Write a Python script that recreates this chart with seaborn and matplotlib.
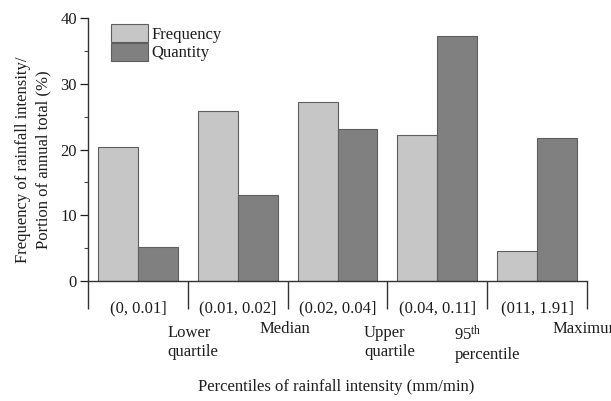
import matplotlib
matplotlib.use("Agg")
import matplotlib.pyplot as plt
import matplotlib.transforms as mtransforms
from matplotlib.ticker import FixedLocator, MultipleLocator
import numpy as np
import pandas as pd
import seaborn as sns

# Rainfall intensity classes (mm/min)
categories = ["(0, 0.01]", "(0.01, 0.02]", "(0.02, 0.04]", "(0.04, 0.11]", "(011, 1.91]"]
frequency = [20.4, 25.9, 27.2, 22.2, 4.5]
quantity = [5.2, 13.1, 23.1, 37.2, 21.7]
series_names = ["Frequency", "Quantity"]

# Percentile markers placed on the class boundaries
boundary_labels = ["Lower\nquartile", "Median", "Upper\nquartile",
                   "95$^{\\mathrm{th}}$\npercentile", "Maximum"]

df = pd.DataFrame({
    "category": categories * 2,
    "series": [series_names[0]] * len(categories) + [series_names[1]] * len(categories),
    "value": frequency + quantity,
})

sns.set_theme(style="ticks")
plt.rcParams["font.family"] = ["Liberation Serif", "DejaVu Serif"]
plt.rcParams["mathtext.fontset"] = "custom"
plt.rcParams["mathtext.rm"] = "Liberation Serif"
plt.rcParams["mathtext.it"] = "Liberation Serif:italic"

FS = 12
TXT = "#1e1e1e"

fig = plt.figure(figsize=(6.11, 4.01), dpi=100)
ax = fig.add_axes([88 / 611, 1 - 281 / 401, 499 / 611, 263 / 401])

sns.barplot(data=df, x="category", y="value", hue="series",
            palette=["#c6c6c6", "#808080"], width=0.8, gap=0,
            edgecolor="#5e5e5e", linewidth=0.8, ax=ax)

ax.set_xlim(-0.5, 4.5)
ax.set_ylim(0, 40)
ax.yaxis.set_major_locator(MultipleLocator(10))
ax.yaxis.set_minor_locator(MultipleLocator(5))
ax.tick_params(axis="y", which="major", direction="out", length=6, width=0.9,
               labelsize=FS, colors=TXT, pad=2)
ax.tick_params(axis="y", which="minor", direction="out", length=3, width=0.8,
               colors="#444444")

# Category labels sit between the boundary dividers
ax.xaxis.set_minor_locator(FixedLocator(np.arange(-0.5, 5.0, 1.0)))
ax.tick_params(axis="x", which="major", length=0, labelsize=FS, pad=14,
               colors=TXT)
ax.tick_params(axis="x", which="minor", direction="out", length=20, width=1.0,
               colors="#333333")

for side in ["top", "right"]:
    ax.spines[side].set_visible(False)
for side in ["left", "bottom"]:
    ax.spines[side].set_color("#333333")
    ax.spines[side].set_linewidth(1.0)

ax.set_xlabel("")
ax.set_ylabel("")

# Percentile labels under each class boundary
trans = mtransforms.blended_transform_factory(ax.transData, fig.transFigure)
offsets = [0.05, -0.03, 0.02, 0.0, 0.0]
for i, lab in enumerate(boundary_labels):
    x = 0.5 + i + offsets[i]
    if "\n" in lab:
        ax.text(x, 1 - 325 / 401, lab, transform=trans, ha="center", va="top",
                multialignment="left", fontsize=FS, color=TXT,
                linespacing=1.25, clip_on=False)
    else:
        ax.text(x, 1 - 329 / 401, lab, transform=trans, ha="center", va="center",
                fontsize=FS, color=TXT, clip_on=False)

fig.text(336 / 611, 1 - 387 / 401, "Percentiles of rainfall intensity (mm/min)",
         ha="center", va="center", fontsize=FS, color=TXT)
fig.text(33 / 611, 1 - 160 / 401,
         "Frequency of rainfall intensity/\nPortion of annual total (%)",
         ha="center", va="center", rotation=90, fontsize=FS, color=TXT,
         linespacing=1.35)

leg = ax.legend(loc="upper left", bbox_to_anchor=(0.046, 0.977), frameon=False,
                fontsize=FS, handlelength=2.2, handleheight=1.3,
                labelspacing=0.0, handletextpad=0.25, borderpad=0,
                borderaxespad=0)
for t in leg.get_texts():
    t.set_color(TXT)

fig.savefig("out.png", dpi=100, facecolor="white")
